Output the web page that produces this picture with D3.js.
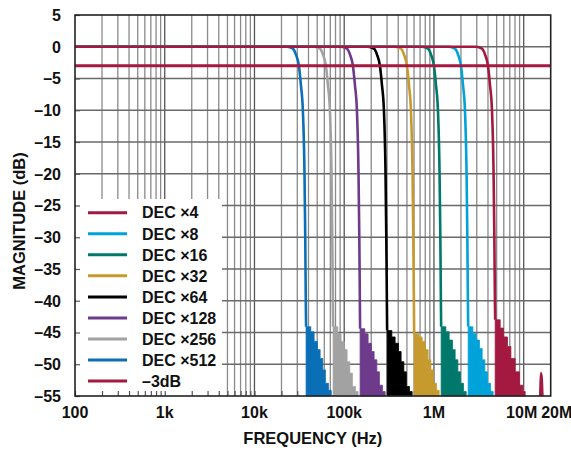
<!DOCTYPE html>
<html><head><meta charset="utf-8">
<script src="https://cdn.jsdelivr.net/npm/d3@7"></script>
<style>body{margin:0;background:#fff}svg{display:block}text{font-family:"Liberation Sans",Arial,sans-serif;font-weight:bold;fill:#111}</style>
</head><body><svg id="c" width="571" height="450"></svg>
<script>
// ---- data ----
const seriesLabels = ["DEC ×4","DEC ×8","DEC ×16","DEC ×32","DEC ×64","DEC ×128","DEC ×256","DEC ×512","–3dB"];
const seriesColors = ["#a3193f","#00a2da","#00786c","#c79a2e","#000000","#6e3a8b","#a2a2a2","#0a6fb6","#a3193f"];
const yTicks = [5,0,-5,-10,-15,-20,-25,-30,-35,-40,-45,-50,-55];
const xTickValues = [100,1e3,1e4,1e5,1e6,1e7,2e7];
const xTickLabels = ["100","1k","10k","100k","1M","10M","20M"];
const transDb = [0,0,-0.3,-1.2,-3,-6,-10,-20,-30,-40];
const passDec4   = [100,2.94e6,3.428e6,3.704e6,4.0e6,4.212e6,4.432e6,4.62e6,4.712e6,4.78e6];
const passDec8   = [100,1.47e6,1.714e6,1.852e6,2.0e6,2.106e6,2.216e6,2.31e6,2.356e6,2.39e6];
const passDec16  = [100,7.35e5,8.57e5,9.26e5,1.0e6,1.053e6,1.108e6,1.155e6,1.178e6,1.195e6];
const passDec32  = [100,3.675e5,4.285e5,4.63e5,5.0e5,5.265e5,5.54e5,5.775e5,5.89e5,5.975e5];
const passDec64  = [100,1.838e5,2.143e5,2.315e5,2.5e5,2.633e5,2.77e5,2.888e5,2.945e5,2.988e5];
const passDec128 = [100,9.19e4,1.071e5,1.158e5,1.25e5,1.316e5,1.385e5,1.444e5,1.473e5,1.494e5];
const passDec256 = [100,4.59e4,5.36e4,5.79e4,6.25e4,6.58e4,6.93e4,7.22e4,7.36e4,7.47e4];
const passDec512 = [100,2.30e4,2.68e4,2.89e4,3.125e4,3.29e4,3.46e4,3.61e4,3.68e4,3.73e4];
const stopFDec4   = [4.812e6,5.47e6,5.955e6,6.598e6,7.2e6,8.039e6,8.978e6,9.797e6,1.039e7];
const stopFDec8   = [2.406e6,2.714e6,2.954e6,3.216e6,3.446e6,3.694e6,3.948e6,4.266e6,4.572e6];
const stopFDec16  = [1.203e6,1.357e6,1.477e6,1.608e6,1.723e6,1.847e6,1.974e6,2.133e6,2.286e6];
const stopFDec32  = [6.015e5,6.785e5,7.385e5,8.04e5,8.615e5,9.235e5,9.87e5,1.0665e6,1.143e6];
const stopFDec64  = [3.008e5,3.393e5,3.693e5,4.02e5,4.308e5,4.618e5,4.935e5,5.333e5,5.715e5];
const stopFDec128 = [1.504e5,1.696e5,1.846e5,2.01e5,2.154e5,2.309e5,2.468e5,2.666e5,2.858e5];
const stopFDec256 = [7.52e4,8.48e4,9.23e4,1.005e5,1.077e5,1.154e5,1.234e5,1.333e5,1.429e5];
const stopFDec512 = [3.76e4,4.24e4,4.62e4,5.03e4,5.39e4,5.77e4,6.17e4,6.67e4,7.15e4];
const stopDbDec4   = [-43.0,-44.3,-45.7,-47.2,-49.1,-51.2,-53.3,-54.3,-55];
const stopDbDec8   = [-44.1,-45.2,-46.2,-47.5,-49.3,-51.2,-53.0,-54.3,-55];
const stopDbDec16  = [-44.1,-44.9,-46.2,-47.7,-49.3,-51.2,-53.0,-54.3,-55];
const stopDbDec32  = [-45.2,-45.7,-46.4,-47.7,-49.3,-50.9,-53.0,-54.1,-55];
const stopDbDec64  = [-44.7,-45.7,-46.7,-48.0,-49.6,-51.2,-53.5,-54.3,-55];
const stopDbDec128 = [-44.4,-45.2,-46.7,-48.0,-49.3,-51.2,-53.3,-54.3,-55];
const stopDbDec256 = [-44.1,-45.2,-46.4,-47.7,-49.6,-51.4,-53.5,-54.3,-55];
const stopDbDec512 = [-44.1,-44.9,-46.4,-47.7,-49.1,-50.9,-53.0,-54.1,-55];
const spikeFDec4  = [1.48e7,1.51e7,1.56e7,1.63e7,1.67e7];
const spikeDbDec4 = [-55,-51.8,-51.2,-51.8,-55];
const minus3dB = -3;

const passF = [passDec4,passDec8,passDec16,passDec32,passDec64,passDec128,passDec256,passDec512];
const stopF = [stopFDec4,stopFDec8,stopFDec16,stopFDec32,stopFDec64,stopFDec128,stopFDec256,stopFDec512];
const stopDb = [stopDbDec4,stopDbDec8,stopDbDec16,stopDbDec32,stopDbDec64,stopDbDec128,stopDbDec256,stopDbDec512];

// ---- layout ----
const L=75, R=550.7, T=15, B=396;
const svg = d3.select("#c");
const x = d3.scaleLog().domain([100,2e7]).range([L,R]);
const y = d3.scaleLinear().domain([-55,5]).range([B,T]);

// grid
const minor=[];
for(let e=2;e<=7;e++) for(let k=1;k<=9;k++){const v=k*Math.pow(10,e); if(v>100&&v<2e7) minor.push(v);}
const g = svg.append("g");
g.selectAll("line.v").data(minor).join("line")
 .attr("x1",d=>x(d)).attr("x2",d=>x(d)).attr("y1",T).attr("y2",B)
 .attr("stroke",d=>[1e3,1e4,1e5,1e6,1e7].includes(d)?"#555":"#8a8a8a").attr("stroke-width",1.3);
g.selectAll("line.h").data(yTicks.filter(v=>v<5&&v>-55)).join("line")
 .attr("x1",L).attr("x2",R).attr("y1",d=>y(d)).attr("y2",d=>y(d))
 .attr("stroke","#6a6a6a").attr("stroke-width",1.3);

// legend box (covers grid)
svg.append("rect").attr("x",L+1).attr("y",199).attr("width",146).attr("height",B-199).attr("fill","#fff");

// axis ticks inward
const xAxis = d3.axisBottom(x).tickValues(minor.concat([100])).tickSize(-5).tickFormat("");
const ax = svg.append("g").attr("transform",`translate(0,${B})`).call(xAxis);
ax.select(".domain").remove();
ax.selectAll(".tick line").attr("stroke","#555").attr("stroke-width",1.2);
const yAxis = d3.axisLeft(y).tickValues(yTicks).tickSize(-5).tickFormat("");
const ay = svg.append("g").attr("transform",`translate(${L},0)`).call(yAxis);
ay.select(".domain").remove();
ay.selectAll(".tick line").attr("stroke","#555").attr("stroke-width",1.2);

// curves
const line = d3.line().x(d=>x(d[0])).y(d=>y(d[1])).curve(d3.curveMonotoneX);
const area = d3.area().x(d=>x(d[0])).y0(y(-55)).y1(d=>y(d[1])).curve(d3.curveStepAfter);
for(let i=7;i>=0;i--){
  const col=seriesColors[i];
  const sData = stopF[i].map((f,j)=>[f,stopDb[i][j]]);
  svg.append("path").attr("d",area(sData)).attr("fill",col).attr("stroke",col).attr("stroke-width",0.8);
  const pData = passF[i].map((f,j)=>[f,transDb[j]]).concat([sData[0]]);
  svg.append("path").attr("d",line(pData)).attr("fill","none").attr("stroke",col).attr("stroke-width",2.6);
}
const spike = spikeFDec4.map((f,j)=>[f,spikeDbDec4[j]]);
svg.append("path").attr("d",d3.area().x(d=>x(d[0])).y0(y(-55)).y1(d=>y(d[1])).curve(d3.curveMonotoneX)(spike)).attr("fill",seriesColors[0]);
svg.append("line").attr("x1",L).attr("x2",R).attr("y1",y(minus3dB)).attr("y2",y(minus3dB)).attr("stroke",seriesColors[8]).attr("stroke-width",3);

// frame
svg.append("rect").attr("x",L).attr("y",T).attr("width",R-L).attr("height",B-T).attr("fill","none").attr("stroke","#222").attr("stroke-width",1.6);

// tick labels
const xLabelShift = [0,0,0,0,0,-2,6];
svg.selectAll("text.yl").data(yTicks).join("text").attr("x",61).attr("y",d=>y(d)).attr("dy","0.36em")
 .attr("text-anchor","end").attr("font-size",16).text(d=>d<0?"–"+Math.abs(d):String(d));
svg.selectAll("text.xl").data(xTickValues).join("text").attr("x",(d,i)=>x(d)+xLabelShift[i]).attr("y",418)
 .attr("text-anchor","middle").attr("font-size",16).text((d,i)=>xTickLabels[i]);

// titles
svg.append("text").attr("x",(L+R)/2).attr("y",444).attr("text-anchor","middle").attr("font-size",16.5).text("FREQUENCY (Hz)");
svg.append("text").attr("transform","translate(25,221) rotate(-90)").attr("text-anchor","middle").attr("font-size",16.5).text("MAGNITUDE (dB)");

// legend
const lg = svg.append("g");
seriesLabels.forEach((s,i)=>{
  const yy = 212.7 + i*21.05;
  lg.append("line").attr("x1",88).attr("x2",127).attr("y1",yy).attr("y2",yy).attr("stroke",seriesColors[i]).attr("stroke-width",3);
  lg.append("text").attr("x",142).attr("y",yy).attr("dy","0.36em").attr("font-size",16).text(s);
});
</script></body></html>
